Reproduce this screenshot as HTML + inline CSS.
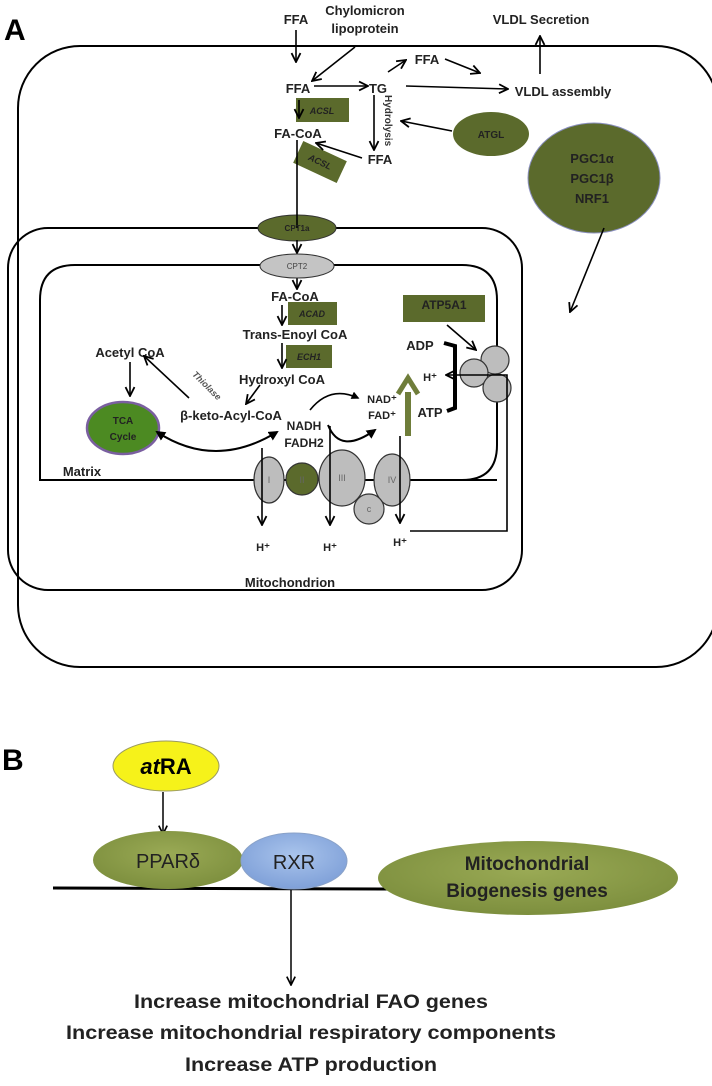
<!DOCTYPE html>
<html><head><meta charset="utf-8"><style>
html,body{margin:0;padding:0;background:#fff;}
svg{display:block;font-family:"Liberation Sans",sans-serif;}
</style></head><body>
<svg width="712" height="1086" viewBox="0 0 712 1086" xmlns="http://www.w3.org/2000/svg">
<defs>
<marker id="a" viewBox="0 0 10 10" refX="9" refY="5" markerWidth="7" markerHeight="7" orient="auto-start-reverse"><path d="M1,1 L9,5 L1,9" fill="none" stroke="#000" stroke-width="1.6"/></marker>
<marker id="f" viewBox="0 0 10 10" refX="8" refY="5" markerWidth="5" markerHeight="5" orient="auto-start-reverse"><path d="M0,0 L10,5 L0,10z" fill="#000"/></marker>
<radialGradient id="g1" cx="50%" cy="40%" r="60%"><stop offset="0" stop-color="#9aaa55"/><stop offset="1" stop-color="#7d8f3e"/></radialGradient>
<radialGradient id="g2" cx="50%" cy="40%" r="60%"><stop offset="0" stop-color="#a9c4ec"/><stop offset="1" stop-color="#7fa0d8"/></radialGradient>
</defs>
<text x="4" y="40" font-size="30" font-weight="bold">A</text>
<rect x="18" y="46" width="700" height="621" rx="62" fill="none" stroke="#000" stroke-width="2"/>
<rect x="8" y="228" width="514" height="362" rx="40" fill="none" stroke="#000" stroke-width="2"/>
<path d="M40,480 L40,300 Q40,265 75,265 L462,265 Q497,265 497,300 L497,445 Q497,480 462,480 Z" fill="none" stroke="#000" stroke-width="2"/>
<!-- boxes -->
<g fill="#5b6a2c">
<rect x="296" y="98" width="53" height="24"/>
<rect x="296" y="150" width="48" height="24" transform="rotate(25 320 162)"/>
<rect x="288" y="302" width="49" height="23"/>
<rect x="286" y="345" width="46" height="23"/>
<rect x="403" y="295" width="82" height="27"/>
<ellipse cx="491" cy="134" rx="38" ry="22"/>
<ellipse cx="594" cy="178" rx="66" ry="55" stroke="#8a8fbf" stroke-width="1"/>
<ellipse cx="297" cy="228" rx="39" ry="13" stroke="#333"/>
</g>
<g font-weight="bold" font-size="13" text-anchor="middle" fill="#222">
<text x="296" y="24">FFA</text>
<text x="365" y="15">Chylomicron</text><text x="365" y="33">lipoprotein</text>
<text x="541" y="24">VLDL Secretion</text>
<text x="298" y="93">FFA</text>
<text x="378" y="93">TG</text>
<text x="427" y="64">FFA</text>
<text x="563" y="96">VLDL assembly</text>
<text x="298" y="138">FA-CoA</text>
<text x="380" y="164">FFA</text>
<text x="592" y="163">PGC1α</text><text x="592" y="183">PGC1β</text><text x="592" y="203">NRF1</text>
<text x="295" y="301">FA-CoA</text>
<text x="295" y="339">Trans-Enoyl CoA</text>
<text x="282" y="384">Hydroxyl CoA</text>
<text x="130" y="357">Acetyl CoA</text>
<text x="231" y="420">β-keto-Acyl-CoA</text>
<text x="304" y="430" font-size="12">NADH</text><text x="304" y="447" font-size="12">FADH2</text>
<text x="382" y="403" font-size="11">NAD⁺</text><text x="382" y="419" font-size="11">FAD⁺</text>
<text x="420" y="350">ADP</text>
<text x="430" y="417">ATP</text>
<text x="430" y="381" font-size="11">H⁺</text>
<text x="82" y="476">Matrix</text>
<text x="263" y="551" font-size="11">H⁺</text><text x="330" y="551" font-size="11">H⁺</text><text x="400" y="546" font-size="11">H⁺</text>
<text x="290" y="587">Mitochondrion</text>
</g>
<g stroke="#000" stroke-width="1.6" fill="none" marker-end="url(#a)">
<line x1="296" y1="30" x2="296" y2="62"/>
<line x1="355" y1="47" x2="312" y2="81"/>
<line x1="314" y1="86" x2="368" y2="86"/>
<line x1="388" y1="72" x2="406" y2="60"/>
<line x1="445" y1="59" x2="480" y2="73"/>
<line x1="406" y1="86" x2="508" y2="89"/>
<line x1="540" y1="74" x2="540" y2="36"/>
<line x1="299" y1="100" x2="299" y2="118"/>
<line x1="362" y1="158" x2="316" y2="143"/>
<line x1="374" y1="95" x2="374" y2="150"/>
<line x1="452" y1="131" x2="401" y2="121"/>
<line x1="604" y1="228" x2="570" y2="312"/>
<line x1="297" y1="240" x2="297" y2="253"/>
<line x1="297" y1="277" x2="297" y2="289"/>
<line x1="282" y1="305" x2="282" y2="325"/>
<line x1="282" y1="343" x2="282" y2="368"/>
<line x1="260" y1="385" x2="246" y2="404"/>
<line x1="130" y1="362" x2="130" y2="396"/>
<line x1="189" y1="398" x2="144" y2="356"/>
<line x1="447" y1="325" x2="476" y2="350"/>
</g>
<line x1="297" y1="140" x2="297" y2="228" stroke="#000" stroke-width="1.6"/>
<g font-size="9" font-style="italic" font-weight="bold" text-anchor="middle" fill="#222">
<text x="322" y="114">ACSL</text>
<text x="320" y="165" transform="rotate(25 320 162)">ACSL</text>
<text x="312" y="317">ACAD</text>
<text x="309" y="360">ECH1</text>
<text x="210" y="385" transform="rotate(45 204 380)" fill="#555">Thiolase</text>
</g>
<text x="385" y="95" font-size="10" font-weight="bold" transform="rotate(90 385 95)" fill="#333">Hydrolysis</text>
<g font-size="10" font-weight="bold" text-anchor="middle" fill="#222">
<text x="491" y="138">ATGL</text>
<text x="444" y="309" font-size="12">ATP5A1</text>
<text x="297" y="231" font-size="8">CPT1a</text>
</g>
<ellipse cx="297" cy="266" rx="37" ry="12" fill="#c4c4c4" stroke="#333"/>
<text x="297" y="269" font-size="8" text-anchor="middle" fill="#444">CPT2</text>
<ellipse cx="123" cy="428" rx="36" ry="26" fill="#4c8a22" stroke="#7a5fa0" stroke-width="2.5"/>
<text x="123" y="424" font-size="10" font-weight="bold" text-anchor="middle" fill="#222">TCA</text>
<text x="123" y="440" font-size="10" font-weight="bold" text-anchor="middle" fill="#222">Cycle</text>
<path d="M157,432 Q215,470 277,432" fill="none" stroke="#000" stroke-width="2" marker-start="url(#f)" marker-end="url(#f)"/>
<path d="M310,410 Q330,385 358,398" fill="none" stroke="#000" stroke-width="1.6" marker-end="url(#f)"/>
<path d="M328,425 Q340,455 375,430" fill="none" stroke="#000" stroke-width="2" marker-end="url(#f)"/>
<line x1="408" y1="436" x2="408" y2="392" stroke="#6f7d3a" stroke-width="6"/>
<path d="M398,394 L408,378 L418,394" fill="none" stroke="#6f7d3a" stroke-width="5"/>
<path d="M444,343 L455,346 L455,408 L447,411" fill="none" stroke="#000" stroke-width="4"/>
<line x1="40" y1="480" x2="497" y2="480" stroke="#000" stroke-width="2"/>
<g stroke="#333" stroke-width="1.2">
<ellipse cx="269" cy="480" rx="15" ry="23" fill="#bdbdbd"/>
<circle cx="302" cy="479" r="16" fill="#5b6a2c"/>
<ellipse cx="342" cy="478" rx="23" ry="28" fill="#bdbdbd"/>
<ellipse cx="392" cy="480" rx="18" ry="26" fill="#bdbdbd"/>
<circle cx="369" cy="509" r="15" fill="#bdbdbd"/>
<circle cx="495" cy="360" r="14" fill="#bdbdbd"/>
<circle cx="474" cy="373" r="14" fill="#bdbdbd"/>
<circle cx="497" cy="388" r="14" fill="#bdbdbd"/>
</g>
<g font-size="9" text-anchor="middle" fill="#666"><text x="269" y="483">I</text><text x="302" y="483">II</text><text x="342" y="481">III</text><text x="392" y="483">IV</text><text x="369" y="512">c</text></g>
<g stroke="#000" stroke-width="1.6" fill="none" marker-end="url(#a)">
<line x1="262" y1="448" x2="262" y2="525"/>
<line x1="330" y1="426" x2="330" y2="525"/>
<line x1="400" y1="436" x2="400" y2="523"/>
</g>
<path d="M410,531 L507,531 L507,375 L446,375" fill="none" stroke="#000" stroke-width="1.6" marker-end="url(#a)"/>
<!-- Panel B -->
<text x="2" y="770" font-size="30" font-weight="bold">B</text>
<ellipse cx="166" cy="766" rx="53" ry="25" fill="#f6f21a" stroke="#9a9a60"/>
<text x="166" y="774" font-size="22" font-weight="bold" text-anchor="middle"><tspan font-style="italic">at</tspan>RA</text>
<line x1="163" y1="792" x2="163" y2="834" stroke="#000" stroke-width="1.5" marker-end="url(#a)"/>
<line x1="53" y1="888" x2="392" y2="889" stroke="#000" stroke-width="3"/>
<ellipse cx="168" cy="860" rx="75" ry="29" fill="url(#g1)"/>
<ellipse cx="294" cy="861" rx="53" ry="28" fill="url(#g2)" stroke="#8aa2c8"/>
<ellipse cx="528" cy="878" rx="150" ry="37" fill="url(#g1)"/>
<g text-anchor="middle" fill="#222" font-size="20">
<text x="168" y="868">PPARδ</text>
<text x="294" y="869">RXR</text>
<text x="527" y="870" font-weight="bold" font-size="19">Mitochondrial</text>
<text x="527" y="897" font-weight="bold" font-size="19">Biogenesis genes</text>
</g>
<line x1="291" y1="890" x2="291" y2="985" stroke="#000" stroke-width="1.5" marker-end="url(#a)"/>
<g text-anchor="middle" font-weight="bold" font-size="19" fill="#222">
<text x="311" y="1008" textLength="354" lengthAdjust="spacingAndGlyphs">Increase mitochondrial FAO genes</text>
<text x="311" y="1039" textLength="490" lengthAdjust="spacingAndGlyphs">Increase mitochondrial respiratory components</text>
<text x="311" y="1071" textLength="252" lengthAdjust="spacingAndGlyphs">Increase ATP production</text>
</g>
</svg>
</body></html>
